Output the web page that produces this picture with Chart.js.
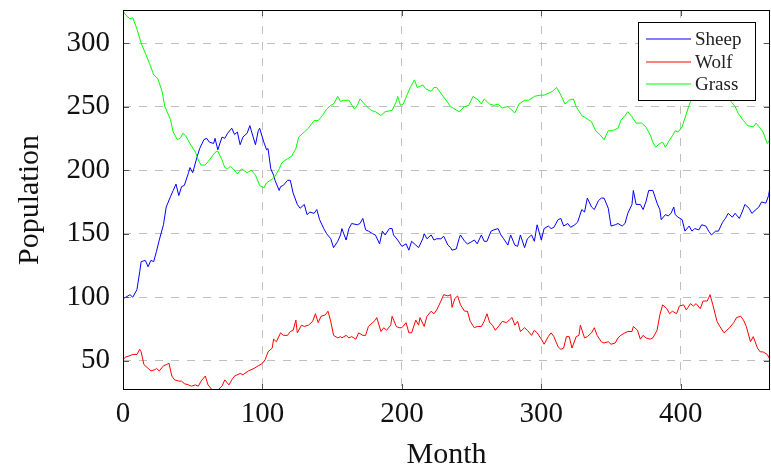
<!DOCTYPE html>
<html>
<head>
<meta charset="utf-8">
<script src="https://cdn.jsdelivr.net/npm/chart.js@4"></script>
<style>
  body { margin: 0; background: #fff; }
  #wrap { width: 771px; height: 470px; }
</style>
</head>
<body>
<div id="wrap"><canvas id="chart" width="771" height="470"></canvas></div>
<script>
// values (month, population)
const sheepMonths = [
  0,2,5,7,10,12,13,16,18,20, 22,24,26,29,31,34,36,38,40,42,
  44,47,48,50,53,55,58,60,62,65, 66,68,71,73,75,78,80,82,84,86,
  89,91,92,95,97,98,101,103,104,106, 108,109,112,113,115,118,120,122,125,127,
  130,132,134,137,139,141,144,146,149,151, 154,156,157,160,162,164,168,170,172,174,
  176,179,181,184,186,188,191,193,194,197, 200,203,205,207,210,212,215,216,218,221,
  223,225,228,230,233,235,236,239,241,242, 245,247,249,252,254,257,259,261,264,266,
  269,271,273,276,278,281,283,285,288,290, 293,295,297,300,302,305,307,309,312,314,
  316,319,321,324,326,329,331,333,336,338, 341,343,345,348,350,353,355,358,360,362,
  365,366,368,371,373,375,377,380,383,385, 386,389,391,393,395,396,398,401,403,406,
  408,410,413,415,418,420,422,425,427,430, 432,434,437,439,442,444,446,449,451,454,
  456,458,461,463,464
];
const sheepValues = [
  99,100,102,100,106,120,128,129,124,129, 128,136,145,157,171,179,184,189,180,187,
  188,198,202,198,210,217,224,225,222,221, 225,216,226,225,229,233,228,230,220,226,
  229,235,231,220,231,233,222,216,217,201, 196,192,184,187,188,192,192,182,173,170,
  173,165,167,166,169,161,154,150,146,139, 144,149,154,145,154,158,157,158,162,153,
  152,150,149,142,152,149,154,154,149,145, 140,142,137,144,141,139,146,150,146,149,
  145,146,146,148,141,139,137,138,146,149, 144,142,143,145,142,149,144,144,152,153,
  154,149,146,141,149,141,140,149,139,146, 149,144,157,145,154,156,154,155,161,162,
  156,158,155,157,159,169,167,178,171,169, 176,178,178,170,156,157,158,156,158,166,
  173,184,173,173,169,175,184,184,174,169, 161,165,164,166,171,165,163,161,152,156,
  152,154,153,157,156,152,149,152,152,159, 162,166,163,166,162,167,173,170,166,169,
  171,175,174,180,187
];

const wolfMonths = [
  0,2,5,7,10,12,13,15,18,20, 23,24,26,29,31,33,35,37,40,42,
  44,47,49,52,54,56,59,61,64,66, 68,71,73,76,78,80,84,86,90,94,
  97,100,102,104,107,108,110,113,115,118, 120,122,124,125,128,130,133,136,138,140,
  142,145,147,149,151,154,156,157,160,162, 164,167,169,172,174,176,179,181,182,185,
  187,189,192,193,196,198,200,203,205,207, 210,212,213,216,218,221,223,225,228,230,
  233,235,236,238,240,242,245,247,249,252, 254,257,259,261,263,265,267,270,272,275,
  277,279,281,283,285,288,290,293,295,297, 300,302,305,307,309,312,314,316,318,320,
  322,325,327,328,331,333,336,338,340,343, 345,348,350,353,355,357,360,362,365,366,
  369,371,373,375,378,380,383,385,387,390, 392,394,397,399,402,404,407,409,411,414,
  416,419,421,423,426,428,431,433,435,438, 440,443,445,447,450,452,455,457,459,462,
  464
];
const wolfValues = [
  51,53,54,55,55,59,57,47,44,42, 43,44,42,46,47,48,38,35,34,34,
  32,31,30,31,30,34,38,31,27,27, 27,30,35,31,35,38,40,39,42,44,
  46,48,51,57,60,67,65,72,70,70, 73,74,82,72,78,77,78,81,87,80,
  85,86,89,81,70,68,69,68,70,68, 69,67,72,70,70,77,80,82,84,73,
  76,74,78,85,77,76,76,80,72,72, 82,78,84,77,85,89,87,90,97,102,
  101,102,92,99,101,94,89,89,81,76, 77,77,81,87,80,78,74,78,81,80,
  82,84,78,81,73,76,74,70,74,72, 67,63,69,72,69,61,59,60,69,69,
  60,69,70,78,68,69,72,76,70,65, 64,65,63,64,68,70,72,73,73,77,
  74,67,70,68,67,68,74,86,94,91, 87,89,87,93,94,90,95,93,95,91,
  97,97,102,94,81,77,72,74,76,80, 84,85,82,77,65,69,60,57,57,55,
  51
];

const grassMonths = [
  0,2,5,7,10,13,16,19,22,25, 28,30,34,36,39,41,43,45,48,52,
  54,56,59,62,66,68,71,73,75,77, 79,82,85,89,92,95,98,101,103,107,
  109,112,114,118,121,124,126,130,133,137, 140,143,146,149,151,154,156,158,162,166,
  168,170,174,178,181,185,188,193,196,197, 199,201,204,206,209,211,215,217,221,223,
  225,229,231,235,238,241,245,248,251,255, 257,259,263,266,269,272,276,278,281,284,
  288,291,295,299,302,306,308,311,314,317, 320,323,325,329,332,336,339,342,345,348,
  351,355,357,360,362,365,368,372,375,378, 380,382,385,387,389,391,394,396,398,401,
  403,406,409,413,417,421,425,429,433,436, 439,441,445,448,452,454,457,459,462,464
];
const grassValues = [
  325,322,319,320,311,300,292,284,275,272, 262,250,240,230,224,225,229,227,221,214,
  208,204,204,208,214,215,208,202,201,203, 201,197,201,198,200,196,188,186,190,193,
  195,201,206,209,211,217,226,230,233,239, 239,243,248,251,252,258,254,255,255,248,
  251,256,251,247,246,243,246,247,254,258, 251,252,260,265,271,265,267,264,262,265,
  265,259,256,250,248,246,250,251,258,255, 252,256,252,251,252,249,250,248,245,252,
  255,255,258,259,259,261,262,265,259,252, 255,256,250,243,241,238,231,228,224,231,
  231,233,239,243,246,242,237,237,234,228, 222,218,221,222,218,222,227,231,230,234,
  241,251,260,266,271,273,268,264,258,254, 250,245,239,235,234,237,233,230,221,224
];

const seriesNames = ['Sheep', 'Wolf', 'Grass'];
const seriesColors = ['#0000ff', '#ff0000', '#00ff00'];
const xTickValues = [0, 100, 200, 300, 400];
const yTickValues = [50, 100, 150, 200, 250, 300];

function toPoints(months, values) {
  return months.map((m, i) => ({ x: m, y: values[i] }));
}

const serif = '"Liberation Serif", "DejaVu Serif", serif';

// black frame plus small inward tick marks like pgfplots
const framePlugin = {
  id: 'frame',
  afterDatasetsDraw(chart) {
    const { ctx, chartArea: a, scales: { x, y } } = chart;
    ctx.save();
    ctx.strokeStyle = '#555';
    ctx.lineWidth = 1;
    ctx.beginPath();
    x.ticks.forEach(t => {
      const px = Math.round(x.getPixelForValue(t.value)) + 0.5;
      ctx.moveTo(px, a.bottom); ctx.lineTo(px, a.bottom - 6);
      ctx.moveTo(px, a.top); ctx.lineTo(px, a.top + 6);
    });
    y.ticks.forEach(t => {
      const py = Math.round(y.getPixelForValue(t.value)) + 0.5;
      ctx.moveTo(a.left, py); ctx.lineTo(a.left + 6, py);
      ctx.moveTo(a.right, py); ctx.lineTo(a.right - 6, py);
    });
    ctx.stroke();
    ctx.strokeStyle = '#000';
    ctx.strokeRect(a.left + 0.5, a.top + 0.5, a.right - a.left - 1, a.bottom - a.top - 1);
    ctx.restore();
  }
};

// legend box drawn inside the plot, top right
const legendPlugin = {
  id: 'boxLegend',
  afterDraw(chart) {
    const { ctx, chartArea: a } = chart;
    const w = 117, h = 78;
    const bx = a.right - w - 15, by = a.top + 12;
    ctx.save();
    ctx.fillStyle = '#fff';
    ctx.fillRect(bx, by, w, h);
    ctx.strokeStyle = '#000';
    ctx.lineWidth = 1;
    ctx.strokeRect(bx + 0.5, by + 0.5, w, h);
    ctx.font = '19px ' + serif;
    ctx.textBaseline = 'middle';
    seriesNames.forEach((name, i) => {
      const ry = Math.round(by + 17 + i * 22.5);
      ctx.strokeStyle = seriesColors[i];
      ctx.lineWidth = 1.2;
      ctx.beginPath();
      ctx.moveTo(bx + 8, ry);
      ctx.lineTo(bx + 53, ry);
      ctx.stroke();
      ctx.fillStyle = '#222';
      ctx.fillText(name, bx + 57, ry + 1);
    });
    ctx.restore();
  }
};

const ctx = document.getElementById('chart').getContext('2d');
new Chart(ctx, {
  type: 'line',
  data: {
    datasets: [
      { label: seriesNames[0], data: toPoints(sheepMonths, sheepValues), borderColor: seriesColors[0], order: 2 },
      { label: seriesNames[1], data: toPoints(wolfMonths, wolfValues), borderColor: seriesColors[1], order: 1 },
      { label: seriesNames[2], data: toPoints(grassMonths, grassValues), borderColor: seriesColors[2], order: 0 }
    ]
  },
  options: {
    responsive: false,
    animation: false,
    events: [],
    layout: { padding: { top: 10, right: 1, left: 0, bottom: 0 } },
    elements: {
      point: { radius: 0 },
      line: { borderWidth: 1, tension: 0 }
    },
    plugins: {
      legend: { display: false },
      tooltip: { enabled: false }
    },
    scales: {
      x: {
        type: 'linear',
        min: 0,
        max: 464,
        afterBuildTicks: s => { s.ticks = xTickValues.map(v => ({ value: v })); },
        afterFit: s => { s.height = 80; s.paddingLeft = 0; s.paddingRight = 0; },
        grid: { color: '#bfbfbf', lineWidth: 1, drawTicks: false },
        border: { display: false, dash: [8, 8] },
        ticks: {
          color: '#111',
          padding: 10,
          maxRotation: 0,
          font: { family: serif, size: 29, lineHeight: 1 }
        },
        title: {
          display: true,
          text: 'Month',
          color: '#111',
          padding: { top: 0, bottom: 0 },
          font: { family: serif, size: 30, lineHeight: 1 }
        }
      },
      y: {
        min: 27,
        max: 326,
        afterBuildTicks: s => { s.ticks = yTickValues.map(v => ({ value: v })); },
        afterFit: s => { s.width = 123; s.paddingTop = 0; s.paddingBottom = 0; },
        grid: { color: '#bfbfbf', lineWidth: 1, drawTicks: false },
        border: { display: false, dash: [8, 8] },
        ticks: {
          color: '#111',
          padding: 13,
          font: { family: serif, size: 29, lineHeight: 1 }
        },
        title: {
          display: true,
          text: 'Population',
          color: '#111',
          padding: { top: 15, bottom: 0 },
          font: { family: serif, size: 30, lineHeight: 1 }
        }
      }
    }
  },
  plugins: [framePlugin, legendPlugin]
});
</script>
</body>
</html>
